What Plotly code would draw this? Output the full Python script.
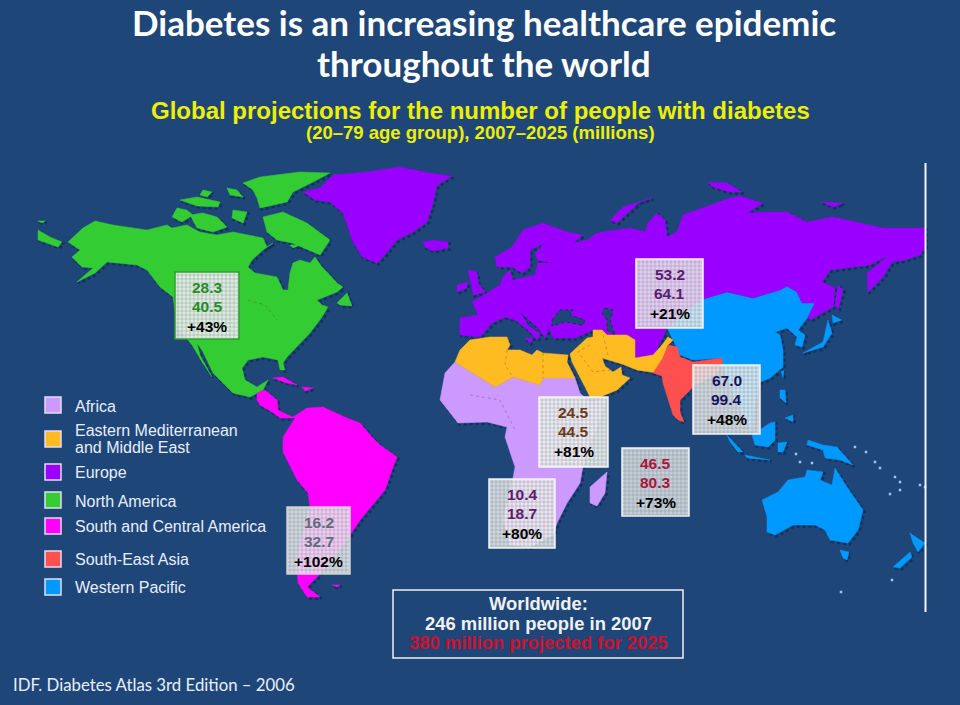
import plotly.graph_objects as go

BG = "#1f4678"
SHADOW = "#12305c"

# legend
legend_labels = ["Africa", "Eastern Mediterranean", "and Middle East", "Europe", "North America",
                 "South and Central America", "South-East Asia", "Western Pacific"]
legend_label_y = [406, 430, 447, 472, 501, 526, 559, 587]
legend_colors = ["#cc99ff", "#ffbb22", "#9900ff", "#33cc33", "#ff00ff", "#ff5050", "#0099ff"]
legend_y = [405, 439, 472, 500, 526, 559, 587]

# regional figures: 2007, 2025, change
values_2007 = ["28.3", "53.2", "67.0", "24.5", "46.5", "10.4", "16.2"]
values_2025 = ["40.5", "64.1", "99.4", "44.5", "80.3", "18.7", "32.7"]
changes = ["+43%", "+21%", "+48%", "+81%", "+73%", "+80%", "+102%"]
value_colors = ["#2a8a2a", "#5c1a70", "#14145e", "#6b3a1a", "#a8163c", "#5f1a6e", "#666a80"]

# label boxes (x0, x1, y0, y1) in map units
box_x0 = [175, 636, 693, 539, 622, 489, 287]
box_x1 = [239, 703, 760, 608, 689, 555, 350]
box_y0 = [272, 259, 365, 397, 448, 479, 507]
box_y1 = [339, 328, 434, 467, 516, 548, 574]
box_alpha = [0.9, 0.85, 0.85, 0.93, 0.8, 0.85, 0.85]
box_edge = ["#2e9e2e", "#f4f4f4", "#f4f4f4", "#f4f4f4", "#f4f4f4", "#f4f4f4", "#d0d0d0"]

# outlines, in map units (960 x 705 grid, y down)
north_america = [
    [(68, 242), (83, 228), (95, 221), (113, 225), (133, 228), (147, 230), (167, 225), (172, 228), (187, 225),
     (200, 232), (217, 235), (233, 232), (248, 235), (263, 238), (267, 247), (273, 243), (263, 250), (252, 260),
     (248, 267), (255, 273), (277, 277), (283, 290), (288, 290), (290, 273), (293, 263), (300, 260), (310, 263),
     (315, 257), (322, 267), (328, 273), (337, 283), (343, 287), (337, 292), (317, 300), (322, 305), (328, 307),
     (322, 317), (310, 333), (297, 347), (287, 357), (283, 363), (285, 370), (280, 370), (278, 360), (263, 357),
     (248, 360), (242, 368), (245, 380), (257, 387), (268, 380), (263, 390), (257, 393), (250, 397), (233, 393),
     (222, 382), (213, 373), (203, 352), (197, 343), (200, 355), (208, 370), (212, 377), (202, 362), (192, 345),
     (177, 327), (173, 297), (160, 287), (147, 270), (137, 265), (120, 263), (107, 262), (95, 273), (77, 282),
     (93, 268), (82, 267), (72, 257), (80, 250)],
    [(172, 217), (177, 208), (187, 210), (193, 215), (182, 222)],
    [(190, 215), (203, 213), (217, 217), (227, 227), (213, 232), (197, 228)],
    [(180, 200), (197, 197), (220, 202), (218, 207), (197, 206)],
    [(243, 183), (260, 177), (300, 172), (330, 173), (313, 182), (293, 192), (287, 202), (260, 208), (257, 198), (253, 190)],
    [(263, 217), (283, 212), (307, 223), (330, 240), (320, 255), (300, 247), (292, 243), (277, 240), (267, 232)],
    [(233, 210), (247, 212), (243, 223), (232, 218)],
    [(227, 188), (237, 190), (243, 197), (230, 195)],
    [(203, 190), (212, 192), (207, 197), (200, 195)],
    [(290, 245), (300, 245), (293, 248)],
    [(337, 303), (347, 293), (352, 306), (340, 305)],
    [(38, 230), (50, 237), (62, 242), (58, 247), (38, 240)],
    [(38, 221), (45, 221), (42, 223)],
]
greenland_and_europe = [
    [(667, 328), (662, 338), (653, 357), (635, 357), (635, 340), (627, 335), (607, 335), (602, 330), (593, 330),
     (575, 338), (553, 338), (549, 328), (545, 338), (538, 328), (520, 312), (528, 325), (540, 334), (537, 340),
     (528, 330), (515, 320), (505, 317), (492, 323), (480, 337), (460, 335), (460, 318), (478, 315), (472, 302),
     (500, 285), (503, 277), (510, 270), (513, 280), (535, 275), (538, 263), (553, 263), (537, 260), (535, 253),
     (545, 243), (530, 250), (530, 267), (522, 273), (512, 267), (497, 267), (495, 257), (512, 247), (523, 230),
     (543, 223), (567, 232), (583, 235), (573, 243), (587, 240), (597, 233), (630, 228), (645, 232), (648, 223),
     (657, 213), (665, 220), (667, 237), (677, 232), (683, 215), (730, 198), (740, 196), (763, 203), (747, 213),
     (770, 212), (787, 212), (807, 222), (833, 217), (883, 228), (903, 228), (925, 228), (925, 247), (920, 255),
     (905, 260), (892, 262), (883, 277), (868, 292), (867, 273), (877, 265), (888, 255), (870, 265), (853, 267),
     (830, 270), (822, 282), (835, 288), (833, 307), (810, 320), (808, 317), (815, 303), (802, 303), (797, 292),
     (787, 286), (780, 290), (753, 298), (727, 292), (700, 300)],
    [(303, 192), (320, 188), (333, 175), (367, 172), (400, 167), (430, 173), (452, 176), (437, 185), (433, 203),
     (427, 222), (413, 232), (397, 240), (383, 257), (377, 263), (362, 257), (353, 242), (347, 225), (343, 213),
     (330, 202), (315, 200)],
    [(423, 242), (433, 240), (448, 242), (448, 248), (433, 251), (425, 247)],
    [(468, 270), (477, 272), (478, 283), (485, 292), (473, 295), (472, 287), (470, 280)],
    [(457, 285), (467, 282), (467, 288), (457, 292)],
    [(610, 220), (623, 207), (652, 198), (640, 202), (623, 217), (617, 223)],
    [(708, 182), (727, 183), (742, 192), (730, 192), (713, 187)],
    [(822, 202), (843, 203), (833, 207)],
    [(838, 285), (843, 290), (838, 310), (835, 305)],
    [(525, 338), (533, 338), (530, 343)],
]
inland_seas = [
    [(552, 320), (560, 310), (573, 310), (570, 315), (585, 320), (583, 325), (565, 322), (552, 326)],
    [(605, 308), (613, 310), (610, 320), (615, 335), (607, 330), (607, 320), (602, 313)],
]
east_med_africa = [(455, 362), (460, 350), (470, 340), (490, 337), (507, 337), (510, 345), (507, 350), (520, 350),
                   (532, 355), (537, 350), (543, 353), (560, 354), (568, 355), (567, 362), (572, 372), (575, 378),
                   (543, 378), (540, 385), (513, 377), (495, 387)]
east_med_asia = [(572, 352), (587, 338), (593, 337), (593, 330), (602, 330), (607, 335), (627, 335), (635, 340),
                 (635, 358), (653, 355), (662, 345), (668, 337), (673, 340), (668, 345), (663, 358), (657, 373),
                 (637, 370), (622, 364), (612, 361), (602, 358), (605, 366), (613, 372), (621, 367), (622, 375),
                 (630, 378), (617, 390), (600, 397), (590, 397), (585, 387), (572, 362), (570, 354)]
africa = [
    [(455, 362), (495, 387), (513, 377), (540, 385), (543, 378), (575, 378), (580, 393), (590, 402), (606, 398),
     (600, 420), (585, 455), (583, 467), (580, 483), (567, 503), (557, 523), (553, 535), (530, 547), (510, 545),
     (503, 520), (513, 478), (515, 467), (505, 437), (507, 427), (487, 422), (458, 423), (440, 400), (445, 373)],
    [(590, 487), (607, 472), (605, 493), (597, 506), (590, 503)],
]
south_central_america = [
    [(257, 393), (265, 390), (277, 400), (278, 410), (288, 415), (293, 417), (307, 408), (323, 407), (347, 418),
     (360, 423), (372, 437), (380, 445), (397, 457), (393, 467), (385, 490), (360, 520), (340, 550), (317, 577),
     (307, 587), (320, 597), (307, 597), (298, 583), (296, 560), (310, 507), (308, 493), (297, 480), (283, 452),
     (283, 437), (295, 418), (280, 418), (272, 412), (260, 405), (257, 400)],
    [(273, 378), (283, 377), (297, 385), (287, 383)],
    [(302, 387), (313, 388), (305, 391)],
    [(332, 585), (340, 585), (337, 587)],
]
south_east_asia = [[(668, 345), (677, 347), (680, 357), (693, 362), (722, 358), (722, 365), (715, 375), (695, 385),
                    (680, 400), (680, 412), (684, 422), (678, 420), (673, 415), (663, 383), (662, 376), (653, 373),
                    (663, 358)]]
western_pacific = [
    [(667, 328), (700, 300), (727, 292), (753, 298), (780, 290), (787, 286), (797, 292), (802, 303), (815, 303),
     (808, 317), (798, 330), (805, 335), (802, 347), (795, 345), (797, 337), (793, 333), (787, 328), (775, 332),
     (780, 335), (783, 350), (783, 367), (770, 378), (760, 382), (755, 405), (752, 432), (745, 420), (735, 400),
     (722, 365), (722, 358), (693, 360), (680, 355), (673, 340)],
    [(727, 435), (743, 452), (738, 452), (730, 442)],
    [(745, 455), (770, 460), (747, 458)],
    [(752, 435), (770, 423), (775, 422), (775, 440), (768, 447), (755, 445)],
    [(778, 443), (787, 442), (783, 452), (778, 452)],
    [(780, 390), (785, 390), (786, 403), (780, 398)],
    [(785, 418), (793, 415), (793, 422)],
    [(781, 371), (784, 371), (783, 378)],
    [(808, 440), (823, 445), (837, 447), (853, 465), (840, 460), (825, 458), (823, 450), (807, 445)],
    [(762, 500), (778, 492), (788, 480), (805, 477), (807, 470), (823, 472), (820, 480), (832, 485), (835, 468),
     (847, 487), (863, 510), (858, 530), (848, 543), (830, 540), (825, 530), (815, 525), (793, 525), (775, 535),
     (767, 532), (767, 517)],
    [(840, 550), (849, 552), (847, 560), (843, 558)],
    [(893, 567), (910, 552), (912, 557), (900, 568)],
    [(910, 533), (925, 543), (918, 552), (913, 543)],
    [(803, 353), (823, 342), (828, 320), (832, 333), (823, 347)],
    [(832, 315), (842, 320), (833, 323)],
]
pacific_islands_x = [855, 866, 875, 880, 895, 900, 900, 890, 920, 925, 892, 841, 800, 812, 796]
pacific_islands_y = [447, 452, 462, 468, 477, 482, 490, 494, 485, 487, 580, 592, 462, 463, 454]
# faint country borders
border_lines = [
    [(248, 300), (265, 305), (277, 320)],
    [(507, 350), (505, 365), (513, 377)],
    [(543, 353), (543, 378)],
    [(603, 335), (608, 355)],
    [(470, 395), (500, 400), (515, 430)],
    [(590, 345), (578, 352), (593, 372), (610, 370)],
]


def flatten(polys, dx=0, dy=0, close=True):
    xs, ys = [], []
    for poly in polys:
        tail_x = [poly[0][0] + dx] if close else []
        tail_y = [poly[0][1] + dy] if close else []
        xs += [p[0] + dx for p in poly] + tail_x + [None]
        ys += [p[1] + dy for p in poly] + tail_y + [None]
    return xs, ys


fig = go.Figure()

regions = [
    (western_pacific, "#0099ff"),
    (greenland_and_europe, "#9900ff"),
    (north_america, "#33cc33"),
    (south_central_america, "#ff00ff"),
    (africa, "#cc99ff"),
    ([east_med_africa, east_med_asia], "#ffbb22"),
    (south_east_asia, "#ff5050"),
]

# dotted shadow first, so every land mass sits on top of it
for polys, color in regions:
    x, y = flatten(polys, 1.5, 1.5)
    fig.add_trace(go.Scatter(x=x, y=y, mode="lines", hoverinfo="skip",
                             line=dict(color=SHADOW, width=2.5, dash="dot")))
for polys, color in regions:
    x, y = flatten(polys)
    fig.add_trace(go.Scatter(x=x, y=y, mode="lines", fill="toself", fillcolor=color, hoverinfo="skip",
                             line=dict(color=color, width=0.5)))

x, y = flatten(inland_seas)
fig.add_trace(go.Scatter(x=x, y=y, mode="lines", fill="toself", fillcolor=BG, hoverinfo="skip",
                         line=dict(color=SHADOW, width=1, dash="dot")))
x, y = flatten(border_lines, close=False)
fig.add_trace(go.Scatter(x=x, y=y, mode="lines", hoverinfo="skip",
                         line=dict(color="rgba(70,60,50,0.45)", width=0.7, dash="dot")))
fig.add_trace(go.Scatter(x=pacific_islands_x, y=pacific_islands_y, mode="markers", hoverinfo="skip",
                         marker=dict(color="#8fc8ff", size=2.5, symbol="square")))

# legend swatches
fig.add_trace(go.Scatter(x=[53] * len(legend_y), y=legend_y, mode="markers", hoverinfo="skip",
                         marker=dict(symbol="square", size=16, color=legend_colors,
                                     line=dict(color="#e6dcf5", width=1.5))))
for label, y_pos in zip(legend_labels, legend_label_y):
    fig.add_annotation(x=73, y=y_pos, text=label, showarrow=False, xanchor="left", align="left",
                       font=dict(family="Liberation Sans", size=16, color="#e8eef8"))

# label boxes with their fine grid
shapes = []
for i in range(len(box_x0)):
    x0, x1, y0, y1 = box_x0[i], box_x1[i], box_y0[i], box_y1[i]
    shapes.append(dict(type="rect", x0=x0, x1=x1, y0=y0, y1=y1, fillcolor=f"rgba(238,240,240,{box_alpha[i]})",
                       line=dict(color=box_edge[i], width=1.5)))
    path = ""
    for gx in range(x0 + 3, x1, 4):
        path += f"M{gx},{y0 + 1}L{gx},{y1 - 1}"
    for gy in range(y0 + 3, y1, 4):
        path += f"M{x0 + 1},{gy}L{x1 - 1},{gy}"
    shapes.append(dict(type="path", path=path, line=dict(color="rgba(110,120,130,0.3)", width=1)))
    cx = (x0 + x1) / 2
    rows = [(values_2007[i], value_colors[i]), (values_2025[i], value_colors[i]), (changes[i], "#000000")]
    for k, (txt, col) in enumerate(rows):
        fig.add_annotation(x=cx, y=y0 + 15.5 + 19.3 * k, text=f"<b>{txt}</b>", showarrow=False,
                           font=dict(family="Liberation Sans", size=15.5, color=col))

# worldwide box and the white rule at the map edge
shapes.append(dict(type="rect", x0=393, x1=683, y0=590, y1=658, line=dict(color="#f0f0f0", width=1.5)))
shapes.append(dict(type="line", x0=925.5, x1=925.5, y0=163, y1=612, line=dict(color="#f4f4f4", width=2)))

world_rows = ["<b>Worldwide:</b>", "<b>246 million people in 2007</b>", "<b>380 million projected for 2025</b>"]
world_y = [603, 623, 642]
world_colors = ["#f0f0f0", "#f0f0f0", "#d0102a"]
for txt, y_pos, col in zip(world_rows, world_y, world_colors):
    fig.add_annotation(x=538, y=y_pos, text=txt, showarrow=False,
                       font=dict(family="Liberation Sans", size=18.4, color=col))

# headings
heading_rows = [
    ("<b>Diabetes is an increasing healthcare epidemic</b>", 484, 22, 35, "Lato", "#ffffff"),
    ("<b>throughout the world</b>", 484, 63, 35, "Lato", "#ffffff"),
    ("<b>Global projections for the number of people with diabetes</b>", 480, 110, 24, "Liberation Sans", "#eef000"),
    ("<b>(20–79 age group), 2007–2025 (millions)</b>", 480, 132, 18.5, "Liberation Sans", "#eef000"),
]
for txt, x_pos, y_pos, size, family, col in heading_rows:
    fig.add_annotation(x=x_pos, y=y_pos, text=txt, showarrow=False,
                       font=dict(family=family, size=size, color=col))
fig.add_annotation(x=11, y=684, text="IDF. Diabetes Atlas 3rd Edition – 2006", showarrow=False, xanchor="left",
                   font=dict(family="Lato", size=16.8, color="#e8eef8"))

fig.update_layout(
    width=960,
    height=705,
    margin=dict(l=0, r=0, t=0, b=0),
    paper_bgcolor=BG,
    plot_bgcolor=BG,
    showlegend=False,
    shapes=shapes,
    xaxis=dict(range=[0, 960], visible=False, fixedrange=True),
    yaxis=dict(range=[705, 0], visible=False, fixedrange=True),
)

# the page's default body margin would push the figure off the window
fig.write_html("out.html", config={"displayModeBar": False},
               post_script="document.body.style.margin='0';document.body.style.overflow='hidden';")
